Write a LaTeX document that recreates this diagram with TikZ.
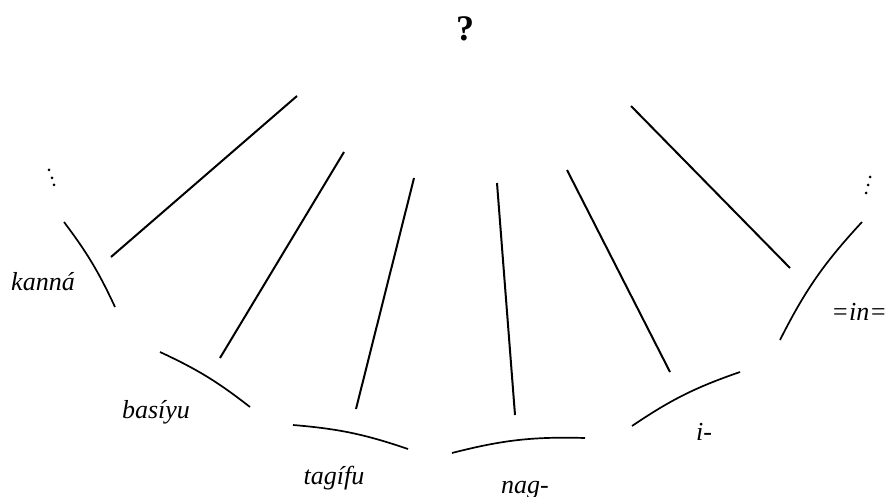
\documentclass[tikz,border=0pt]{standalone}
\usepackage{fontspec}
\setmainfont{Liberation Serif}
\begin{document}
\begin{tikzpicture}[x=1pt,y=-1pt,
  branch/.style={line width=2pt},
  rim/.style={line width=1.7pt},
  lab/.style={font=\fontsize{26}{30}\selectfont\itshape, inner sep=0pt, anchor=base},
  dot/.style={circle, fill=black, inner sep=0pt, minimum size=3pt}]
\useasboundingbox (0,0) rectangle (889,497);
% title
\node[inner sep=0pt, anchor=base, font=\fontsize{36}{40}\selectfont\bfseries] (q) at (465,41) {?};
% branch end points
\coordinate (t1) at (297,96);  \coordinate (b1) at (111,257);
\coordinate (t2) at (344,152); \coordinate (b2) at (220,358);
\coordinate (t3) at (414,178); \coordinate (b3) at (356,409);
\coordinate (t4) at (497,183); \coordinate (b4) at (515,415);
\coordinate (t5) at (567,170); \coordinate (b5) at (670,372);
\coordinate (t6) at (631,106); \coordinate (b6) at (790,268);
\foreach \i in {1,...,6} \draw[branch] (t\i) -- (b\i);
% rim arcs
\coordinate (a1) at (64,222);  \coordinate (e1) at (115,307);
\coordinate (a2) at (160,352); \coordinate (e2) at (250,407);
\coordinate (a3) at (293,425); \coordinate (e3) at (408,449);
\coordinate (a4) at (452,453); \coordinate (e4) at (585,438);
\coordinate (a5) at (632,426); \coordinate (e5) at (740,372);
\coordinate (a6) at (780,340); \coordinate (e6) at (862,222);
\draw[rim] (a1) to[bend left=6] (e1);
\draw[rim] (a2) to[bend left=6.5] (e2);
\draw[rim] (a3) to[bend left=7] (e3);
\draw[rim] (a4) to[bend left=8] (e4);
\draw[rim] (a5) to[bend left=7.5] (e5);
\draw[rim] (a6) to[bend left=8] (e6);
% dots
\node[dot] (dl1) at (49,170) {}; \node[dot] (dl2) at (52,178) {}; \node[dot] (dl3) at (54,185) {};
\node[dot] (dr1) at (870,177) {}; \node[dot] (dr2) at (868,185) {}; \node[dot] (dr3) at (866,193) {};
% labels
\node[lab] (l1) at (43,290) {kanná};
\node[lab] (l2) at (156,418) {basíyu};
\node[lab] (l3) at (334,484) {tagífu};
\node[lab] (l4) at (525,493) {nag-};
\node[lab] (l5) at (704,440) {i-};
\node[lab, anchor=base east] (l6) at (887,320) {=in=};
\end{tikzpicture}
\end{document}
